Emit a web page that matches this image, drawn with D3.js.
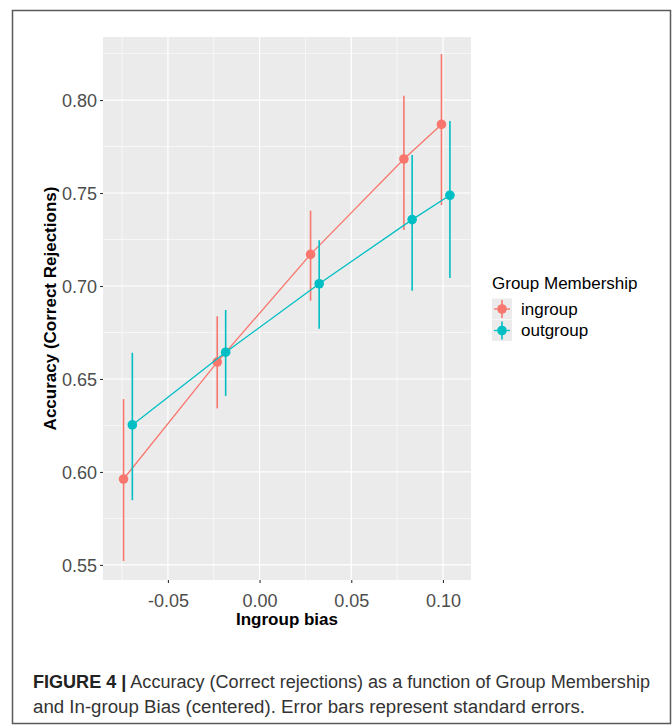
<!DOCTYPE html>
<html>
<head>
<meta charset="utf-8">
<script src="https://cdn.jsdelivr.net/npm/d3@7"></script>
<style>
  html, body { margin: 0; padding: 0; background: #fff; }
  svg { display: block; font-family: "Liberation Sans", Arial, Helvetica, sans-serif; }
</style>
</head>
<body>
<svg id="chart" width="672" height="726"></svg>
<script>
// ---- data ----
const groups = ["ingroup", "outgroup"];
const groupColors = ["#F8766D", "#00BFC4"];
const ingroupX = [-0.0742, -0.0231, 0.0278, 0.0787, 0.0992];
const ingroupY = [0.5962, 0.6591, 0.7170, 0.7683, 0.7869];
const ingroupLow = [0.5521, 0.6342, 0.6921, 0.7301, 0.7435];
const ingroupHigh = [0.6392, 0.6837, 0.7405, 0.8023, 0.8247];
const outgroupX = [-0.0694, -0.0185, 0.0325, 0.0832, 0.1038];
const outgroupY = [0.6253, 0.6644, 0.7012, 0.7357, 0.7488];
const outgroupLow = [0.5848, 0.6409, 0.6770, 0.6975, 0.7043];
const outgroupHigh = [0.6641, 0.6871, 0.7246, 0.7704, 0.7887];
const xTicks = [-0.05, 0.00, 0.05, 0.10];
const xMinor = [-0.075, -0.025, 0.025, 0.075];
const yTicks = [0.55, 0.60, 0.65, 0.70, 0.75, 0.80];
const yMinor = [0.575, 0.625, 0.675, 0.725, 0.775, 0.825];
const xTitle = "Ingroup bias";
const yTitle = "Accuracy (Correct Rejections)";
const legendTitle = "Group Membership";
const captionBold = "FIGURE 4 |";
const captionLine1 = " Accuracy (Correct rejections) as a function of Group Membership";
const captionLine2 = "and In-group Bias (centered). Error bars represent standard errors.";

const series = [
  {name: groups[0], color: groupColors[0], x: ingroupX, y: ingroupY, lo: ingroupLow, hi: ingroupHigh},
  {name: groups[1], color: groupColors[1], x: outgroupX, y: outgroupY, lo: outgroupLow, hi: outgroupHigh}
];

// ---- layout ----
const svg = d3.select("#chart");
const panel = {left: 103, right: 471, top: 37, bottom: 580};

svg.append("rect").attr("x", 0).attr("y", 0).attr("width", 672).attr("height", 726).attr("fill", "#fff");
svg.append("rect").attr("x", 12.5).attr("y", 10.5).attr("width", 658).attr("height", 713)
  .attr("fill", "none").attr("stroke", "#5a5a5a").attr("stroke-width", 1.5);

const x = d3.scaleLinear().domain([-0.0854, 0.1153]).range([panel.left, panel.right]);
const y = d3.scaleLinear().domain([0.5419, 0.8339]).range([panel.bottom, panel.top]);

const g = svg.append("g");
g.append("rect").attr("x", panel.left).attr("y", panel.top)
  .attr("width", panel.right - panel.left).attr("height", panel.bottom - panel.top)
  .attr("fill", "#EBEBEB");

// minor grid
g.selectAll(".xminor").data(xMinor).join("line")
  .attr("x1", d => x(d)).attr("x2", d => x(d)).attr("y1", panel.top).attr("y2", panel.bottom)
  .attr("stroke", "#fff").attr("stroke-width", 0.6);
g.selectAll(".yminor").data(yMinor).join("line")
  .attr("y1", d => y(d)).attr("y2", d => y(d)).attr("x1", panel.left).attr("x2", panel.right)
  .attr("stroke", "#fff").attr("stroke-width", 0.6);
// major grid
g.selectAll(".xmajor").data(xTicks).join("line")
  .attr("x1", d => x(d)).attr("x2", d => x(d)).attr("y1", panel.top).attr("y2", panel.bottom)
  .attr("stroke", "#fff").attr("stroke-width", 1.2);
g.selectAll(".ymajor").data(yTicks).join("line")
  .attr("y1", d => y(d)).attr("y2", d => y(d)).attr("x1", panel.left).attr("x2", panel.right)
  .attr("stroke", "#fff").attr("stroke-width", 1.2);

// axes
const fmt = d => d3.format(".2f")(d).replace("\u2212", "-");
const xAxis = d3.axisBottom(x).tickValues(xTicks).tickFormat(fmt).tickSize(3).tickPadding(4);
const yAxis = d3.axisLeft(y).tickValues(yTicks).tickFormat(fmt).tickSize(3).tickPadding(3);
const gx = svg.append("g").attr("transform", `translate(0,${panel.bottom})`).call(xAxis);
const gy = svg.append("g").attr("transform", `translate(${panel.left},0)`).call(yAxis);
[gx, gy].forEach(a => {
  a.select(".domain").remove();
  a.selectAll(".tick line").attr("stroke", "#333").attr("stroke-width", 1.1);
  a.selectAll(".tick text").attr("fill", "#4D4D4D").style("font-size", "18px")
    .style("font-family", "'Liberation Sans', Arial, sans-serif");
});
gx.selectAll(".tick text").attr("y", 27).attr("dy", "0");
gy.selectAll(".tick text").attr("dy", "0.36em");

// titles
svg.append("text").attr("x", (panel.left + panel.right) / 2).attr("y", 625)
  .attr("text-anchor", "middle").attr("font-weight", "bold").style("font-size", "17px").attr("fill", "#000")
  .text(xTitle);
svg.append("text").attr("transform", `translate(56,${(panel.top + panel.bottom) / 2}) rotate(-90)`)
  .attr("text-anchor", "middle").attr("font-weight", "bold").style("font-size", "17px").attr("fill", "#000")
  .text(yTitle);

// series
const line = d3.line().x(d => x(d[0])).y(d => y(d[1]));
series.forEach(s => {
  const pts = s.x.map((v, i) => [v, s.y[i], s.lo[i], s.hi[i]]);
  const sg = g.append("g");
  sg.append("path").datum(pts).attr("d", line).attr("fill", "none")
    .attr("stroke", s.color).attr("stroke-width", 1.3);
  sg.selectAll(".err").data(pts).join("line")
    .attr("x1", d => x(d[0])).attr("x2", d => x(d[0]))
    .attr("y1", d => y(d[2])).attr("y2", d => y(d[3]))
    .attr("stroke", s.color).attr("stroke-width", 1.6);
  sg.selectAll(".pt").data(pts).join("circle")
    .attr("cx", d => x(d[0])).attr("cy", d => y(d[1])).attr("r", 4.8)
    .attr("fill", s.color);
});

// legend
const lg = svg.append("g");
lg.append("text").attr("x", 492).attr("y", 289).style("font-size", "17px").attr("fill", "#000").text(legendTitle);
series.forEach((s, i) => {
  const cy = 309 + i * 21.5;
  lg.append("rect").attr("x", 492).attr("y", cy - 10.5).attr("width", 20).attr("height", 21).attr("fill", "#EBEBEB");
  lg.append("line").attr("x1", 502).attr("x2", 502).attr("y1", cy - 9).attr("y2", cy + 9)
    .attr("stroke", s.color).attr("stroke-width", 1.6);
  lg.append("line").attr("x1", 494).attr("x2", 510).attr("y1", cy).attr("y2", cy)
    .attr("stroke", s.color).attr("stroke-width", 1.3);
  lg.append("circle").attr("cx", 502).attr("cy", cy).attr("r", 4.8).attr("fill", s.color);
  lg.append("text").attr("x", 521).attr("y", cy).attr("dy", "0.35em").style("font-size", "17px")
    .attr("fill", "#000").text(s.name);
});

// caption
const cap = svg.append("g").style("font-size", "18px").attr("fill", "#333");
const t1 = cap.append("text").attr("x", 33).attr("y", 688)
  .attr("textLength", 617).attr("lengthAdjust", "spacingAndGlyphs");
t1.append("tspan").attr("font-weight", "bold").attr("fill", "#222").text(captionBold);
t1.append("tspan").text(captionLine1);
cap.append("text").attr("x", 33).attr("y", 713)
  .attr("textLength", 552).attr("lengthAdjust", "spacingAndGlyphs").text(captionLine2);
</script>
</body>
</html>
